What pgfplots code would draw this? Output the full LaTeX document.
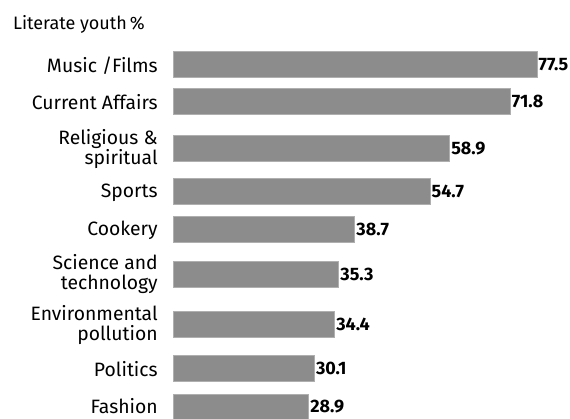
\documentclass[border=0pt]{standalone}
\usepackage{fontspec}
\setmainfont{Fira Sans}
\usepackage{pgfplots}
\usepackage{pgfplotstable}
\pgfplotsset{compat=1.18}

\definecolor{bargray}{RGB}{140,140,140}

% bar values, y position = bar centre in pixels from the top
\pgfplotstableread{
y     v
64.5  77.5
101   71.8
148.5 58.9
191.5 54.7
229   38.7
274   35.3
324   34.4
368   30.1
407   28.9
}\datatable

\begin{document}
\begin{tikzpicture}
\begin{axis}[
  scale only axis,
  width=427.5pt, height=313.5pt,
  xmin=-36.83, xmax=84.52,
  ymin=0, ymax=418, y dir=reverse,
  hide axis,
  xbar, bar width=26,
  clip=true,
]
\path (rel axis cs:0,0) rectangle (rel axis cs:1,1);
\addplot[fill=bargray, draw=bargray!70, line width=0.5pt,
  nodes near coords={\pgfmathprintnumber[fixed,fixed zerofill,precision=1,assume math mode=true]{\pgfplotspointmeta}},
  nodes near coords style={anchor=west, inner sep=1pt, font=\fontsize{13.5}{14}\selectfont\bfseries, text=black},
  point meta=x,
] table[x=v, y=y] {\datatable};

\begin{scope}[every node/.style={anchor=east, align=right, inner sep=0pt, font=\fontsize{14.5}{14.6}\selectfont}]
\node at (axis cs:-3.2,66) {Music /Films};
\node at (axis cs:-3.2,102.5) {Current Affairs};
\node at (axis cs:-3.2,149) {Religious \&\\spiritual};
\node at (axis cs:-3.2,193) {Sports};
\node at (axis cs:-3.2,230) {Cookery};
\node at (axis cs:-3.2,274) {Science and\\technology};
\node at (axis cs:-3.2,325) {Environmental\\pollution};
\node at (axis cs:-3.2,369.5) {Politics};
\node at (axis cs:-3.2,406) {Fashion};
\end{scope}
\node[anchor=west, inner sep=0pt, font=\fontsize{13.5}{14}\selectfont] at (axis cs:-34.1,24.5) {Literate youth\,\%};
\end{axis}
\end{tikzpicture}
\end{document}
